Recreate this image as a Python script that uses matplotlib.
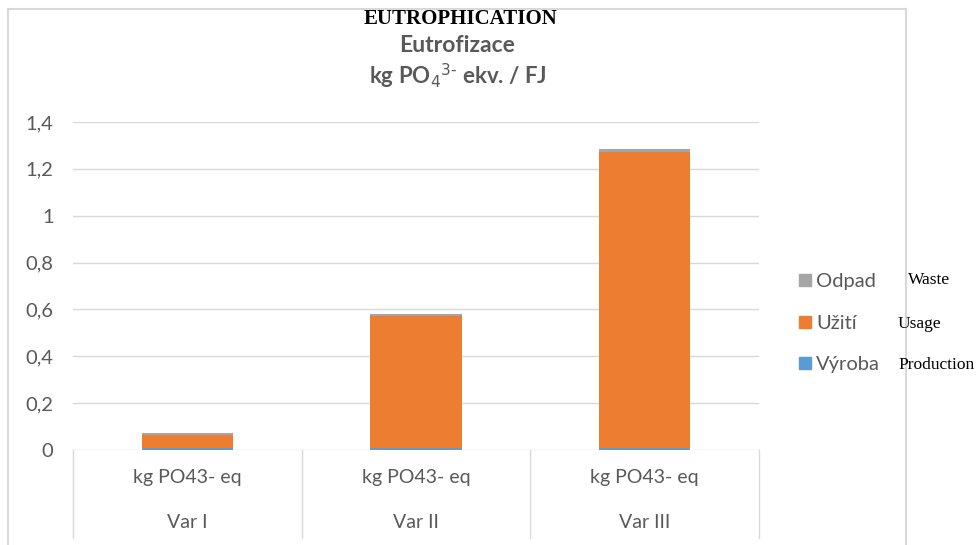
import matplotlib
matplotlib.use('Agg')
import matplotlib.pyplot as plt
from matplotlib.lines import Line2D
from matplotlib.transforms import blended_transform_factory
import numpy as np


variants   = ['Var I', 'Var II', 'Var III']
unit_label = 'kg PO43- eq'
vyroba     = [0.010, 0.010, 0.010]
uziti      = [0.055, 0.562, 1.263]
odpad      = [0.008, 0.008, 0.010]
series_cz  = ['Výroba', 'Užití', 'Odpad']
series_en  = ['Production', 'Usage', 'Waste']
colors     = ['#5b9bd5', '#ed7d31', '#a5a5a5']
y_ticks    = [0, 0.2, 0.4, 0.6, 0.8, 1.0, 1.2, 1.4]

W, H = 976, 545
GRAY = '#595959'
SANS = ['Lato', 'DejaVu Sans']
SERIF = ['Liberation Serif', 'DejaVu Serif']

fig = plt.figure(figsize=(W / 100, H / 100), dpi=100)
ax = fig.add_axes([73 / W, 1 - 450 / H, (759 - 73) / W, (450 - 122) / H])

x = np.arange(len(variants))
width = 0.4
bottom = np.zeros(len(variants))
for vals, col in zip([vyroba, uziti, odpad], colors):
    ax.bar(x, vals, width, bottom=bottom, color=col, zorder=3)
    bottom += np.array(vals)

ax.set_xlim(-0.5, len(variants) - 0.5)
ax.set_ylim(0, 1.4)
ax.set_yticks(y_ticks)
ax.set_yticklabels([('%g' % t).replace('.', ',') for t in y_ticks],
                   family=SANS, fontsize=14.5, color=GRAY)
ax.tick_params(axis='y', length=0, pad=14)
ax.set_xticks([])
for t in y_ticks:
    ax.axhline(t, color='#d9d9d9', lw=1, zorder=1)
for s in ax.spines.values():
    s.set_visible(False)

# two level category axis
tr = blended_transform_factory(ax.transData, ax.transAxes)
drop = (538 - 450) / (450 - 122)
for xe in np.arange(len(variants) + 1) - 0.5:
    ax.plot([xe, xe], [0, -drop], color='#d9d9d9', lw=1, transform=tr,
            clip_on=False)
for i, v in enumerate(variants):
    ax.text(i, -(478 - 450) / 328, unit_label, transform=tr, ha='center',
            va='center', family=SANS, fontsize=14, color=GRAY)
    ax.text(i, -(522 - 450) / 328, v, transform=tr, ha='center',
            va='center', family=SANS, fontsize=14, color=GRAY)

# legend, top entry is Odpad
handles = [Line2D([], [], ls='', marker='s', markersize=8, color=c)
           for c in colors[::-1]]
fig.legend(handles, series_cz[::-1], loc='center left',
           bbox_to_anchor=(777 / W, 1 - 323 / H), frameon=False,
           prop={'family': SANS, 'size': 14.5}, labelcolor=GRAY,
           handletextpad=0.05, labelspacing=1.2, handlelength=1.0)

# english labels next to legend
for txt, xp, yp in zip(series_en[::-1], [908, 898, 898], [280, 324, 365]):
    fig.text(xp / W, 1 - yp / H, txt, family=SERIF, fontsize=12.5,
             color='black', va='center', ha='left')

# frame of the chart area
frame_kw = dict(color='#d9d9d9', lw=1.5, transform=fig.transFigure)
fig.add_artist(Line2D([8 / W, 906 / W], [1 - 9 / H, 1 - 9 / H], **frame_kw))
fig.add_artist(Line2D([8 / W, 8 / W], [1 - 9 / H, 0], **frame_kw))
fig.add_artist(Line2D([906 / W, 906 / W], [1 - 9 / H, 0], **frame_kw))

# titles
fig.text(460 / W, 1 - 19 / H, 'EUTROPHICATION', family=SERIF, fontsize=15,
         weight='bold', ha='center', va='center', color='black')
fig.text(457 / W, 1 - 46 / H, 'Eutrofizace', family=SANS, fontsize=16.5,
         weight='bold', ha='center', va='center', color=GRAY)
fig.text(458 / W, 1 - 76 / H, r'kg PO$_4$$^{3\text{-}}$ ekv. / FJ',
         family=SANS, fontsize=16, weight='bold', ha='center', va='center',
         color=GRAY)

fig.savefig('out.png', dpi=100)
